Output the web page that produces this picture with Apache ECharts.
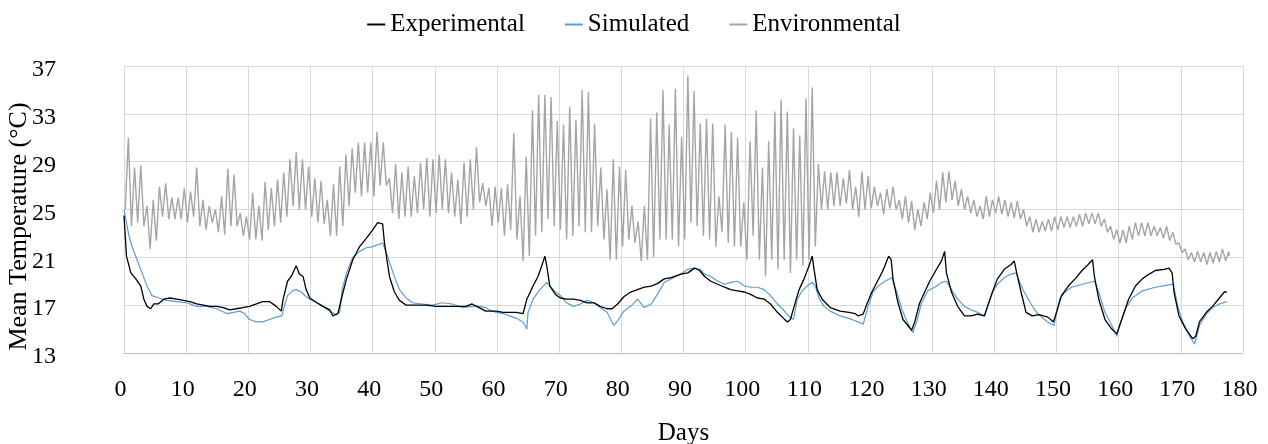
<!DOCTYPE html>
<html>
<head>
<meta charset="utf-8">
<script src="https://cdn.jsdelivr.net/npm/echarts@6/dist/echarts.min.js"></script>
<style>
html,body{margin:0;padding:0;background:#fff;}
#chart{width:1268px;height:444px;}
</style>
</head>
<body>
<div id="chart"></div>
<script>
// ---- data ----
const seriesNames = ["Experimental", "Simulated", "Environmental"];
const xTicks = { min: 0, max: 180, step: 10 };
const yTicks = { min: 13, max: 37, step: 4 };

const expDays = [0,0.4,1.1,1.9,2.7,3.2,3.7,4.3,4.8,5.5,6.4,7.4,8.5,9.6,10.6,11.7,12.8,13.8,14.9,16.0,17.0,18.1,19.1,20.2,21.3,22.3,23.4,24.5,25.3,25.6,26.3,26.9,27.7,28.2,28.8,29.3,29.9,31.0,32.0,33.1,33.6,34.4,35.0,35.8,36.8,37.9,39.0,40.0,40.8,41.6,41.9,42.3,42.7,43.5,44.3,45.4,47.0,48.6,50.2,51.8,53.4,55.0,56.0,57.1,58.2,59.9,61.0,62.0,63.1,64.2,64.8,65.8,66.6,67.2,67.7,68.0,68.5,69.4,70.2,71.2,72.3,73.4,74.5,75.6,76.6,77.7,78.5,79.4,80.4,81.5,82.6,83.7,84.8,85.8,86.9,88.0,89.6,90.7,91.8,92.6,93.4,94.4,95.5,96.6,97.6,98.7,99.8,100.8,101.9,103.0,104.0,105.1,105.9,106.7,107.2,107.8,108.6,109.4,110.2,110.7,111.0,111.5,112.3,113.6,115.2,116.6,117.6,118.1,118.9,119.5,120.3,121.1,121.9,122.4,123.0,123.4,123.7,124.5,125.3,126.1,126.7,127.2,128.0,128.8,129.6,130.7,131.5,132.0,132.3,133.1,134.1,135.2,136.3,137.3,138.4,138.9,139.7,140.5,141.6,142.7,143.2,143.6,144.3,145.1,146.1,147.2,148.6,149.5,150.0,150.8,151.9,153.0,154.1,155.1,155.8,156.1,156.8,157.8,158.9,159.7,160.5,161.6,162.7,163.8,164.9,165.9,167.3,168.1,168.6,168.9,169.7,170.8,171.9,172.4,173.0,174.1,175.1,176.2,177.0,177.4];
const expVals = [24.5,21.1,19.7,19.2,18.6,17.5,16.9,16.7,17.1,17.1,17.5,17.6,17.5,17.4,17.3,17.1,17.0,16.9,16.9,16.8,16.6,16.7,16.8,16.9,17.1,17.3,17.3,16.9,16.5,17.5,19.0,19.4,20.3,19.6,19.4,18.3,17.6,17.2,16.9,16.6,16.1,16.3,17.6,19.2,20.8,21.9,22.6,23.3,23.9,23.8,22.2,20.8,19.4,18.1,17.4,17.0,17.0,17.0,16.9,16.9,16.9,16.9,17.1,16.8,16.5,16.5,16.4,16.4,16.4,16.3,17.5,18.6,19.4,20.3,21.1,20.3,18.6,17.9,17.6,17.5,17.5,17.4,17.2,17.2,16.9,16.7,16.7,17.1,17.7,18.1,18.3,18.5,18.6,18.8,19.2,19.3,19.6,19.7,20.1,19.9,19.4,19.0,18.75,18.5,18.3,18.2,18.1,17.9,17.6,17.5,17.1,16.4,16.0,15.6,15.8,16.9,18.3,19.2,20.3,21.1,20.0,18.3,17.5,16.8,16.5,16.4,16.3,16.1,16.25,17.1,18.1,18.9,19.7,20.3,21.1,20.8,19.2,17.2,15.8,15.3,14.9,15.6,17.2,18.1,19.0,20.0,20.7,21.5,19.7,18.1,16.9,16.1,16.1,16.25,16.1,16.9,18.1,19.2,20.0,20.4,20.7,19.7,18.1,16.4,16.1,16.2,16.0,15.6,16.4,17.8,18.6,19.2,19.9,20.4,20.8,19.4,17.5,15.8,15.0,14.6,15.8,17.5,18.6,19.2,19.6,19.9,20.0,20.1,19.7,18.1,16.1,15.0,14.2,14.4,15.6,16.4,16.9,17.6,18.1,18.1];

const simDays = [0,0.5,0.8,1.3,2.1,2.9,3.7,4.5,5.6,6.9,8.5,10.1,11.7,13.3,14.9,16.5,17.6,18.6,19.4,20.2,21.3,22.3,23.4,24.5,25.4,25.8,26.3,27.1,27.7,28.5,29.3,29.9,31.5,33.1,34.2,34.7,35.1,35.8,36.8,37.9,39.0,40.0,41.1,41.6,42.2,42.7,43.5,44.3,45.4,46.4,48.0,49.6,51.2,52.8,54.4,56.0,57.1,58.2,58.8,59.9,61.0,62.0,63.1,64.2,64.8,65.0,65.8,66.9,68.0,68.5,69.4,70.2,71.2,72.3,73.4,74.5,75.6,76.6,77.7,78.8,79.4,80.4,81.5,82.6,83.7,84.8,85.8,86.9,88.0,89.6,90.7,91.8,92.6,93.4,94.4,95.5,96.6,97.6,98.7,99.8,100.8,101.9,103.0,104.0,105.1,105.9,106.9,107.7,108.3,109.1,109.9,110.7,111.2,111.8,112.6,113.6,115.2,116.6,117.6,118.1,118.9,119.7,120.5,121.3,122.4,123.5,124.3,125.1,125.9,126.9,127.5,128.3,129.3,130.4,131.5,132.3,133.1,134.1,135.2,136.3,137.3,138.4,138.9,139.7,140.5,141.6,142.7,143.5,144.0,144.8,145.9,147.0,148.6,149.6,150.0,150.5,151.4,152.4,154.1,156.1,156.8,157.8,158.9,159.7,160.3,161.1,162.2,163.8,165.9,168.1,168.8,169.5,170.3,171.4,172.2,173.0,174.1,175.1,176.2,177.4];
const simVals = [25.0,23.6,22.8,21.9,20.8,19.7,18.6,17.8,17.6,17.4,17.3,17.2,16.9,16.9,16.7,16.3,16.4,16.5,16.3,15.8,15.6,15.6,15.8,16.0,16.1,16.9,17.8,18.2,18.3,18.1,17.7,17.5,17.1,16.5,16.2,16.4,18.3,19.7,21.0,21.5,21.8,21.9,22.1,22.2,21.4,20.6,19.4,18.3,17.6,17.2,17.1,17.0,17.2,17.1,16.8,16.9,16.9,16.8,16.6,16.4,16.3,16.1,15.9,15.6,15.0,16.4,17.5,18.3,18.9,18.6,18.1,17.8,17.2,16.9,17.1,17.4,17.2,16.8,16.4,15.3,15.7,16.5,16.9,17.5,16.8,17.1,17.9,18.9,19.2,19.6,20.0,20.1,20.0,19.6,19.4,19.0,18.75,18.9,19.0,18.6,18.5,18.5,18.3,17.8,17.1,16.7,16.1,15.8,17.5,18.2,18.6,18.9,18.6,17.6,16.9,16.5,16.1,15.9,15.7,15.6,15.4,16.9,18.1,18.6,19.0,19.3,18.1,16.7,15.7,14.7,15.6,17.2,18.2,18.5,18.9,19.0,18.3,17.5,16.9,16.6,16.4,16.1,16.8,18.1,18.75,19.3,19.6,19.7,19.0,18.1,17.1,16.25,15.6,15.3,16.4,17.5,18.1,18.5,18.75,19.0,18.1,16.4,15.3,14.4,15.6,16.7,17.6,18.2,18.5,18.7,18.75,16.9,15.6,14.4,13.75,15.3,16.25,16.8,17.1,17.3];

// Environmental: daily minimum (early in each day) and daily maximum (later in each day), days 0..177
const envLow = [
25.0,23.6,23.9,23.6,21.7,22.4,24.4,24.2,24.2,24.2,
23.9,24.4,23.6,23.3,23.9,23.1,22.9,23.6,23.6,22.8,
22.5,22.5,22.4,23.3,23.6,23.9,24.4,25.3,25.0,25.0,
24.4,23.9,23.8,22.8,22.8,23.6,25.3,26.4,26.1,26.4,
26.1,27.0,27.0,24.7,24.2,24.4,24.4,24.7,25.0,24.4,
24.7,25.0,24.7,24.4,23.8,24.4,25.0,25.6,25.3,23.6,
23.9,22.8,23.3,22.5,20.7,21.1,22.8,23.1,24.2,23.6,
23.3,22.5,22.8,23.6,23.1,23.1,23.6,22.5,20.8,20.8,
21.9,22.5,22.2,20.7,20.8,21.0,22.5,22.5,22.5,21.9,
22.5,23.9,23.6,22.8,22.5,21.9,23.1,22.2,21.9,21.9,
20.8,22.8,20.8,19.4,20.8,20.0,20.8,19.7,20.8,20.3,
20.8,21.9,25.0,25.0,25.3,25.3,25.5,25.0,24.4,25.0,
25.1,25.3,24.6,25.1,25.0,24.2,23.9,23.3,23.6,24.2,
24.7,25.0,25.6,25.8,25.3,25.0,24.7,24.4,24.2,24.4,
24.7,24.6,24.4,24.3,24.2,23.6,23.1,23.1,23.2,23.2,
23.3,23.5,23.5,23.6,23.6,23.8,23.8,23.6,23.1,22.5,
22.2,22.2,22.5,22.8,22.8,22.8,22.8,22.6,22.4,22.1,
21.4,20.8,20.6,20.6,20.4,20.5,20.6,20.7];
const envHigh = [
31.0,28.5,28.7,25.3,25.8,26.9,27.2,26.0,26.0,26.8,
26.5,28.5,25.8,25.3,25.0,26.1,28.4,27.9,24.7,24.4,
26.4,25.3,27.3,26.8,27.5,28.1,29.2,29.8,29.2,28.6,
27.6,27.4,25.8,27.1,28.6,29.6,30.1,30.6,30.6,30.6,
31.5,30.6,27.6,28.8,28.1,28.6,27.8,28.9,29.3,29.2,
29.6,29.2,28.1,27.5,28.9,29.2,30.2,27.2,26.8,26.9,
26.8,27.1,31.4,26.1,29.4,33.3,34.6,34.6,34.4,32.4,
32.1,33.6,32.5,35.0,34.8,32.2,28.5,26.7,29.2,28.6,
28.3,25.3,24.0,25.3,32.6,33.1,35.0,32.1,35.1,31.1,
36.2,34.9,32.2,32.6,32.2,26.1,32.1,31.5,31.0,25.6,
30.7,33.3,28.5,30.7,33.2,34.2,33.2,31.8,31.2,34.3,
35.2,28.8,28.2,28.1,28.1,27.6,28.3,26.9,28.2,27.8,
26.9,26.4,26.7,26.9,25.8,26.1,25.7,25.0,25.6,26.4,
27.4,28.1,28.2,27.4,26.7,26.1,25.8,25.3,26.1,25.8,
26.1,25.8,25.6,25.7,25.0,24.4,24.2,24.0,24.2,24.4,
24.4,24.4,24.4,24.6,24.7,24.7,24.7,24.2,23.6,23.3,
23.3,23.6,23.9,23.9,23.9,23.6,23.5,23.6,23.1,22.2,
21.7,21.4,21.5,21.4,21.4,21.5,21.7,21.5];
const envEnd = { day: 177.8, value: 21.1 };

// ---- build series data ----
function pairs(xs, ys) { return xs.map((x, i) => [x, ys[i]]); }
const envData = [];
envLow.forEach((lo, d) => {
  envData.push([d + 0.2, lo]);
  envData.push([d + 0.7, envHigh[d]]);
});
envData.push([envEnd.day, envEnd.value]);

const serif = '"Liberation Serif", "Times New Roman", serif';
const chart = echarts.init(document.getElementById('chart'), null, { renderer: 'canvas' });
chart.setOption({
  animation: false,
  backgroundColor: '#ffffff',
  textStyle: { fontFamily: serif },
  legend: {
    top: 7,
    left: 'center',
    itemWidth: 18,
    itemHeight: 2,
    itemGap: 40,
    icon: 'rect',
    textStyle: { fontFamily: serif, fontSize: 25, color: '#000' },
    data: seriesNames
  },
  grid: { left: 124, right: 25, top: 66, bottom: 91, containLabel: false, outerBoundsMode: 'none' },
  xAxis: {
    type: 'value',
    min: xTicks.min, max: xTicks.max, interval: xTicks.step,
    name: 'Days', nameLocation: 'middle', nameGap: 68, nameMoveOverlap: false,
    nameTextStyle: { fontFamily: serif, fontSize: 25, color: '#000' },
    axisLine: { show: true, lineStyle: { color: '#bfbfbf', width: 1 } },
    axisTick: { show: false },
    axisLabel: { margin: 25, fontFamily: serif, fontSize: 24, color: '#000', padding: [0, 7, 0, 0] },
    splitLine: { show: true, lineStyle: { color: '#d9d9d9', width: 1 } }
  },
  yAxis: {
    type: 'value',
    min: yTicks.min, max: yTicks.max, interval: yTicks.step,
    name: 'Mean Temperature (°C)', nameLocation: 'middle', nameGap: 92, nameRotate: 90, nameMoveOverlap: false,
    nameTextStyle: { fontFamily: serif, fontSize: 26, color: '#000', padding: [0, 34, 0, 0] },
    axisLine: { show: false },
    axisTick: { show: false },
    axisLabel: { margin: 68, fontFamily: serif, fontSize: 24, color: '#000', verticalAlign: 'top', lineHeight: 8 },
    splitLine: { show: true, lineStyle: { color: '#d9d9d9', width: 1 } }
  },
  series: [
    { name: seriesNames[0], type: 'line', data: pairs(expDays, expVals), showSymbol: false, symbol: 'none',
      lineStyle: { color: '#000000', width: 1.3 }, itemStyle: { color: '#000000' }, z: 4 },
    { name: seriesNames[1], type: 'line', data: pairs(simDays, simVals), showSymbol: false, symbol: 'none',
      lineStyle: { color: '#5b9bd5', width: 1.2 }, itemStyle: { color: '#5b9bd5' }, z: 3 },
    { name: seriesNames[2], type: 'line', data: envData, showSymbol: false, symbol: 'none',
      lineStyle: { color: '#a5a5a5', width: 1.4 }, itemStyle: { color: '#a5a5a5' }, z: 2 }
  ]
});
</script>
</body>
</html>
